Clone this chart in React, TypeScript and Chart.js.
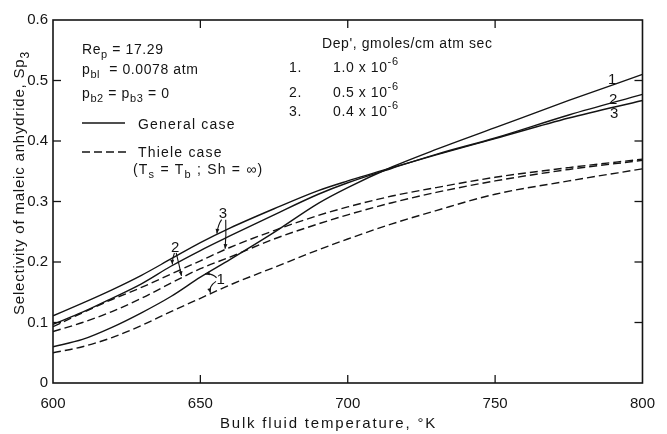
import { useEffect, useRef } from 'react';
import { Chart, registerables } from 'chart.js';

Chart.register(...registerables);

// Bulk fluid temperature, °K
const temperatures = [600, 610, 620, 630, 640, 650, 660, 675, 690, 700, 715, 730, 750, 775, 800];

// Selectivity of maleic anhydride Sp3 — general case (solid lines)
const general1 = [0.060, 0.072, 0.092, 0.116, 0.143, 0.175, 0.204, 0.249, 0.297, 0.323, 0.357, 0.386, 0.422, 0.467, 0.510];
const general2 = [0.097, 0.117, 0.140, 0.164, 0.193, 0.219, 0.243, 0.278, 0.312, 0.331, 0.355, 0.378, 0.405, 0.443, 0.477];
const general3 = [0.111, 0.132, 0.154, 0.178, 0.205, 0.232, 0.256, 0.288, 0.318, 0.334, 0.356, 0.377, 0.404, 0.438, 0.467];

// Thiele case, Ts = Tb, Sh = ∞ (dashed lines)
const thiele1 = [0.050, 0.060, 0.075, 0.095, 0.118, 0.140, 0.162, 0.191, 0.220, 0.238, 0.263, 0.285, 0.312, 0.334, 0.354];
const thiele2 = [0.085, 0.100, 0.118, 0.140, 0.165, 0.189, 0.208, 0.238, 0.263, 0.278, 0.298, 0.315, 0.334, 0.353, 0.368];
const thiele3 = [0.093, 0.116, 0.138, 0.158, 0.180, 0.202, 0.224, 0.252, 0.277, 0.291, 0.309, 0.323, 0.340, 0.356, 0.370];

// Axis ticks
const xTickValues = [600, 650, 700, 750, 800];
const yTickValues = [0, 0.1, 0.2, 0.3, 0.4, 0.5, 0.6];

// Dep', gmoles/cm atm sec for curves 1..3
const depMantissas = ['1.0', '0.5', '0.4'];
const curveNumbers = ['1', '2', '3'];

const INK = '#141414';
const FONT = '"Liberation Sans", Arial, sans-serif';

type Part = { t: string; sub?: boolean; sup?: boolean };

function drawParts(ctx: CanvasRenderingContext2D, x: number, y: number, parts: Part[], size: number) {
  let cx = x;
  for (const p of parts) {
    const s = p.sub || p.sup ? Math.round(size * 0.78) : size;
    ctx.font = `${s}px ${FONT}`;
    const dy = p.sub ? size * 0.3 : p.sup ? -size * 0.5 : 0;
    ctx.fillText(p.t, cx, y + dy);
    cx += ctx.measureText(p.t).width;
  }
  return cx;
}

function arrowTo(ctx: CanvasRenderingContext2D, x0: number, y0: number, cx: number, cy: number, x1: number, y1: number) {
  ctx.beginPath();
  ctx.moveTo(x0, y0);
  ctx.quadraticCurveTo(cx, cy, x1, y1);
  ctx.stroke();
  const ang = Math.atan2(y1 - cy, x1 - cx);
  const h = 5;
  ctx.beginPath();
  ctx.moveTo(x1, y1);
  ctx.lineTo(x1 - h * Math.cos(ang - 0.4), y1 - h * Math.sin(ang - 0.4));
  ctx.lineTo(x1 - h * Math.cos(ang + 0.4), y1 - h * Math.sin(ang + 0.4));
  ctx.closePath();
  ctx.fill();
}

// Closed frame with inward tick marks on all four sides
const framePlugin = {
  id: 'frame',
  afterDatasetsDraw(chart: any) {
    const { ctx, chartArea: a, scales } = chart;
    const xs = scales.x;
    const ys = scales.y;
    ctx.save();
    ctx.strokeStyle = INK;
    ctx.lineWidth = 1.6;
    ctx.strokeRect(a.left, a.top, a.right - a.left, a.bottom - a.top);
    ctx.lineWidth = 1.3;
    const len = 8;
    const seg = (x0: number, y0: number, x1: number, y1: number) => {
      ctx.beginPath();
      ctx.moveTo(x0, y0);
      ctx.lineTo(x1, y1);
      ctx.stroke();
    };
    xs.ticks.forEach((t: any) => {
      if (t.value <= xs.min || t.value >= xs.max) return;
      const px = xs.getPixelForValue(t.value);
      seg(px, a.bottom, px, a.bottom - len);
      seg(px, a.top, px, a.top + len);
    });
    ys.ticks.forEach((t: any) => {
      if (t.value <= ys.min || t.value >= ys.max) return;
      const py = ys.getPixelForValue(t.value);
      seg(a.left, py, a.left + len, py);
      seg(a.right, py, a.right - len, py);
    });
    ctx.restore();
  },
};

// Axis titles, parameter block, legend and curve numbering
const notesPlugin = {
  id: 'notes',
  afterDraw(chart: any) {
    const { ctx, scales } = chart;
    const xs = scales.x;
    const ys = scales.y;
    const X = (v: number) => xs.getPixelForValue(v);
    const Y = (v: number) => ys.getPixelForValue(v);
    ctx.save();
    ctx.fillStyle = INK;
    ctx.strokeStyle = INK;
    ctx.textAlign = 'left';
    ctx.textBaseline = 'alphabetic';

    // axis titles
    (ctx as any).letterSpacing = '1.8px';
    ctx.font = `15px ${FONT}`;
    ctx.fillText('Bulk fluid temperature, °K', 220, 428);

    ctx.save();
    ctx.translate(24, 183);
    ctx.rotate(-Math.PI / 2);
    (ctx as any).letterSpacing = '0.8px';
    ctx.font = `15px ${FONT}`;
    const main = 'Selectivity of maleic anhydride, Sp';
    const wMain = ctx.measureText(main).width;
    ctx.font = `12px ${FONT}`;
    const wSub = ctx.measureText('3').width;
    drawParts(ctx, -(wMain + wSub) / 2, 0, [{ t: main }, { t: '3', sub: true }], 15);
    ctx.restore();

    // parameter block
    (ctx as any).letterSpacing = '0.6px';
    const fs = 14;
    drawParts(ctx, 82, 54, [{ t: 'Re' }, { t: 'p', sub: true }, { t: ' = 17.29' }], fs);
    drawParts(ctx, 82, 74, [{ t: 'p' }, { t: 'bl', sub: true }, { t: '  = 0.0078 atm' }], fs);
    drawParts(ctx, 82, 98, [{ t: 'p' }, { t: 'b2', sub: true }, { t: ' = p' }, { t: 'b3', sub: true }, { t: ' = 0' }], fs);

    // legend
    ctx.lineWidth = 1.4;
    ctx.beginPath();
    ctx.moveTo(82, 123);
    ctx.lineTo(125, 123);
    ctx.stroke();
    ctx.setLineDash([8, 4]);
    ctx.beginPath();
    ctx.moveTo(82, 152);
    ctx.lineTo(129, 152);
    ctx.stroke();
    ctx.setLineDash([]);
    (ctx as any).letterSpacing = '1.2px';
    drawParts(ctx, 138, 129, [{ t: 'General case' }], fs);
    drawParts(ctx, 138, 157, [{ t: 'Thiele case' }], fs);
    drawParts(ctx, 133, 174, [{ t: '(T' }, { t: 's', sub: true }, { t: ' = T' }, { t: 'b', sub: true }, { t: ' ; Sh = ∞)' }], fs);

    // Dep' list
    (ctx as any).letterSpacing = '0.6px';
    drawParts(ctx, 322, 48, [{ t: "Dep', gmoles/cm atm sec" }], fs);
    const rowBase = [72, 97, 116];
    depMantissas.forEach((m, i) => {
      drawParts(ctx, 289, rowBase[i], [{ t: `${curveNumbers[i]}.` }], fs);
      drawParts(ctx, 333, rowBase[i], [{ t: `${m} x 10` }, { t: '-6', sup: true }], fs);
    });

    // curve numbers at the right end
    ctx.font = `15px ${FONT}`;
    ctx.fillText('1', 608, 84);
    ctx.fillText('2', 609, 104);
    ctx.fillText('3', 610, 118);

    // curve numbers with pointers
    ctx.lineWidth = 1.1;
    ctx.font = `15px ${FONT}`;
    ctx.fillText('3', X(656.2), Y(0.273));
    arrowTo(ctx, X(657.2), Y(0.270), X(656.0), Y(0.262), X(655.6), Y(0.247));
    arrowTo(ctx, X(658.6), Y(0.270), X(658.8), Y(0.245), X(658.4), Y(0.222));
    ctx.fillText('2', X(640.0), Y(0.217));
    arrowTo(ctx, X(641.2), Y(0.215), X(640.4), Y(0.206), X(640.5), Y(0.196));
    arrowTo(ctx, X(641.8), Y(0.215), X(642.8), Y(0.195), X(643.6), Y(0.177));
    ctx.fillText('1', X(655.5), Y(0.164));
    arrowTo(ctx, X(655.5), Y(0.174), X(653.8), Y(0.182), X(651.6), Y(0.180));
    arrowTo(ctx, X(655.3), Y(0.168), X(652.8), Y(0.160), X(653.4), Y(0.149));

    ctx.restore();
  },
};

export default function App() {
  const canvasRef = useRef<HTMLCanvasElement | null>(null);

  useEffect(() => {
    const canvas = canvasRef.current;
    if (!canvas) return;

    const solid = (data: any[]) => ({
      data,
      borderColor: INK,
      borderWidth: 1.4,
      pointRadius: 0,
      fill: false,
      cubicInterpolationMode: 'monotone' as const,
    });
    const dashed = (data: any[]) => ({ ...solid(data), borderDash: [8, 4] });

    const toPoints = (vals: number[]) => vals.map((v, i) => ({ x: temperatures[i], y: v }));

    const chart = new Chart(canvas, {
      type: 'line',
      data: {
        datasets: [
          solid(toPoints(general1)),
          solid(toPoints(general2)),
          solid(toPoints(general3)),
          dashed(toPoints(thiele1)),
          dashed(toPoints(thiele2)),
          dashed(toPoints(thiele3)),
        ],
      },
      options: {
        animation: false,
        responsive: false,
        layout: { padding: { top: 20, right: 14, left: 0, bottom: 0 } },
        plugins: { legend: { display: false }, tooltip: { enabled: false } },
        scales: {
          x: {
            type: 'linear',
            min: 600,
            max: 800,
            afterBuildTicks: (s: any) => {
              s.ticks = xTickValues.map((v) => ({ value: v }));
            },
            afterFit: (s: any) => {
              s.height = 51;
            },
            grid: { display: false, drawTicks: false },
            border: { display: false },
            ticks: {
              color: INK,
              padding: 12,
              maxRotation: 0,
              font: { family: FONT, size: 15 },
              callback: (v: any) => String(v),
            },
          },
          y: {
            type: 'linear',
            min: 0,
            max: 0.6,
            afterBuildTicks: (s: any) => {
              s.ticks = yTickValues.map((v) => ({ value: v }));
            },
            afterFit: (s: any) => {
              s.width = 53;
            },
            grid: { display: false, drawTicks: false },
            border: { display: false },
            ticks: {
              color: INK,
              padding: 5,
              font: { family: FONT, size: 15 },
              callback: (v: any) => (Number(v) === 0 ? '0' : Number(v).toFixed(1)),
            },
          },
        },
      },
      plugins: [framePlugin, notesPlugin],
    });

    return () => chart.destroy();
  }, []);

  return (
    <div style={{ position: 'absolute', left: 0, top: 0, width: 667, height: 434, background: '#fff' }}>
      <canvas ref={canvasRef} width={667} height={434} style={{ display: 'block' }} />
    </div>
  );
}
